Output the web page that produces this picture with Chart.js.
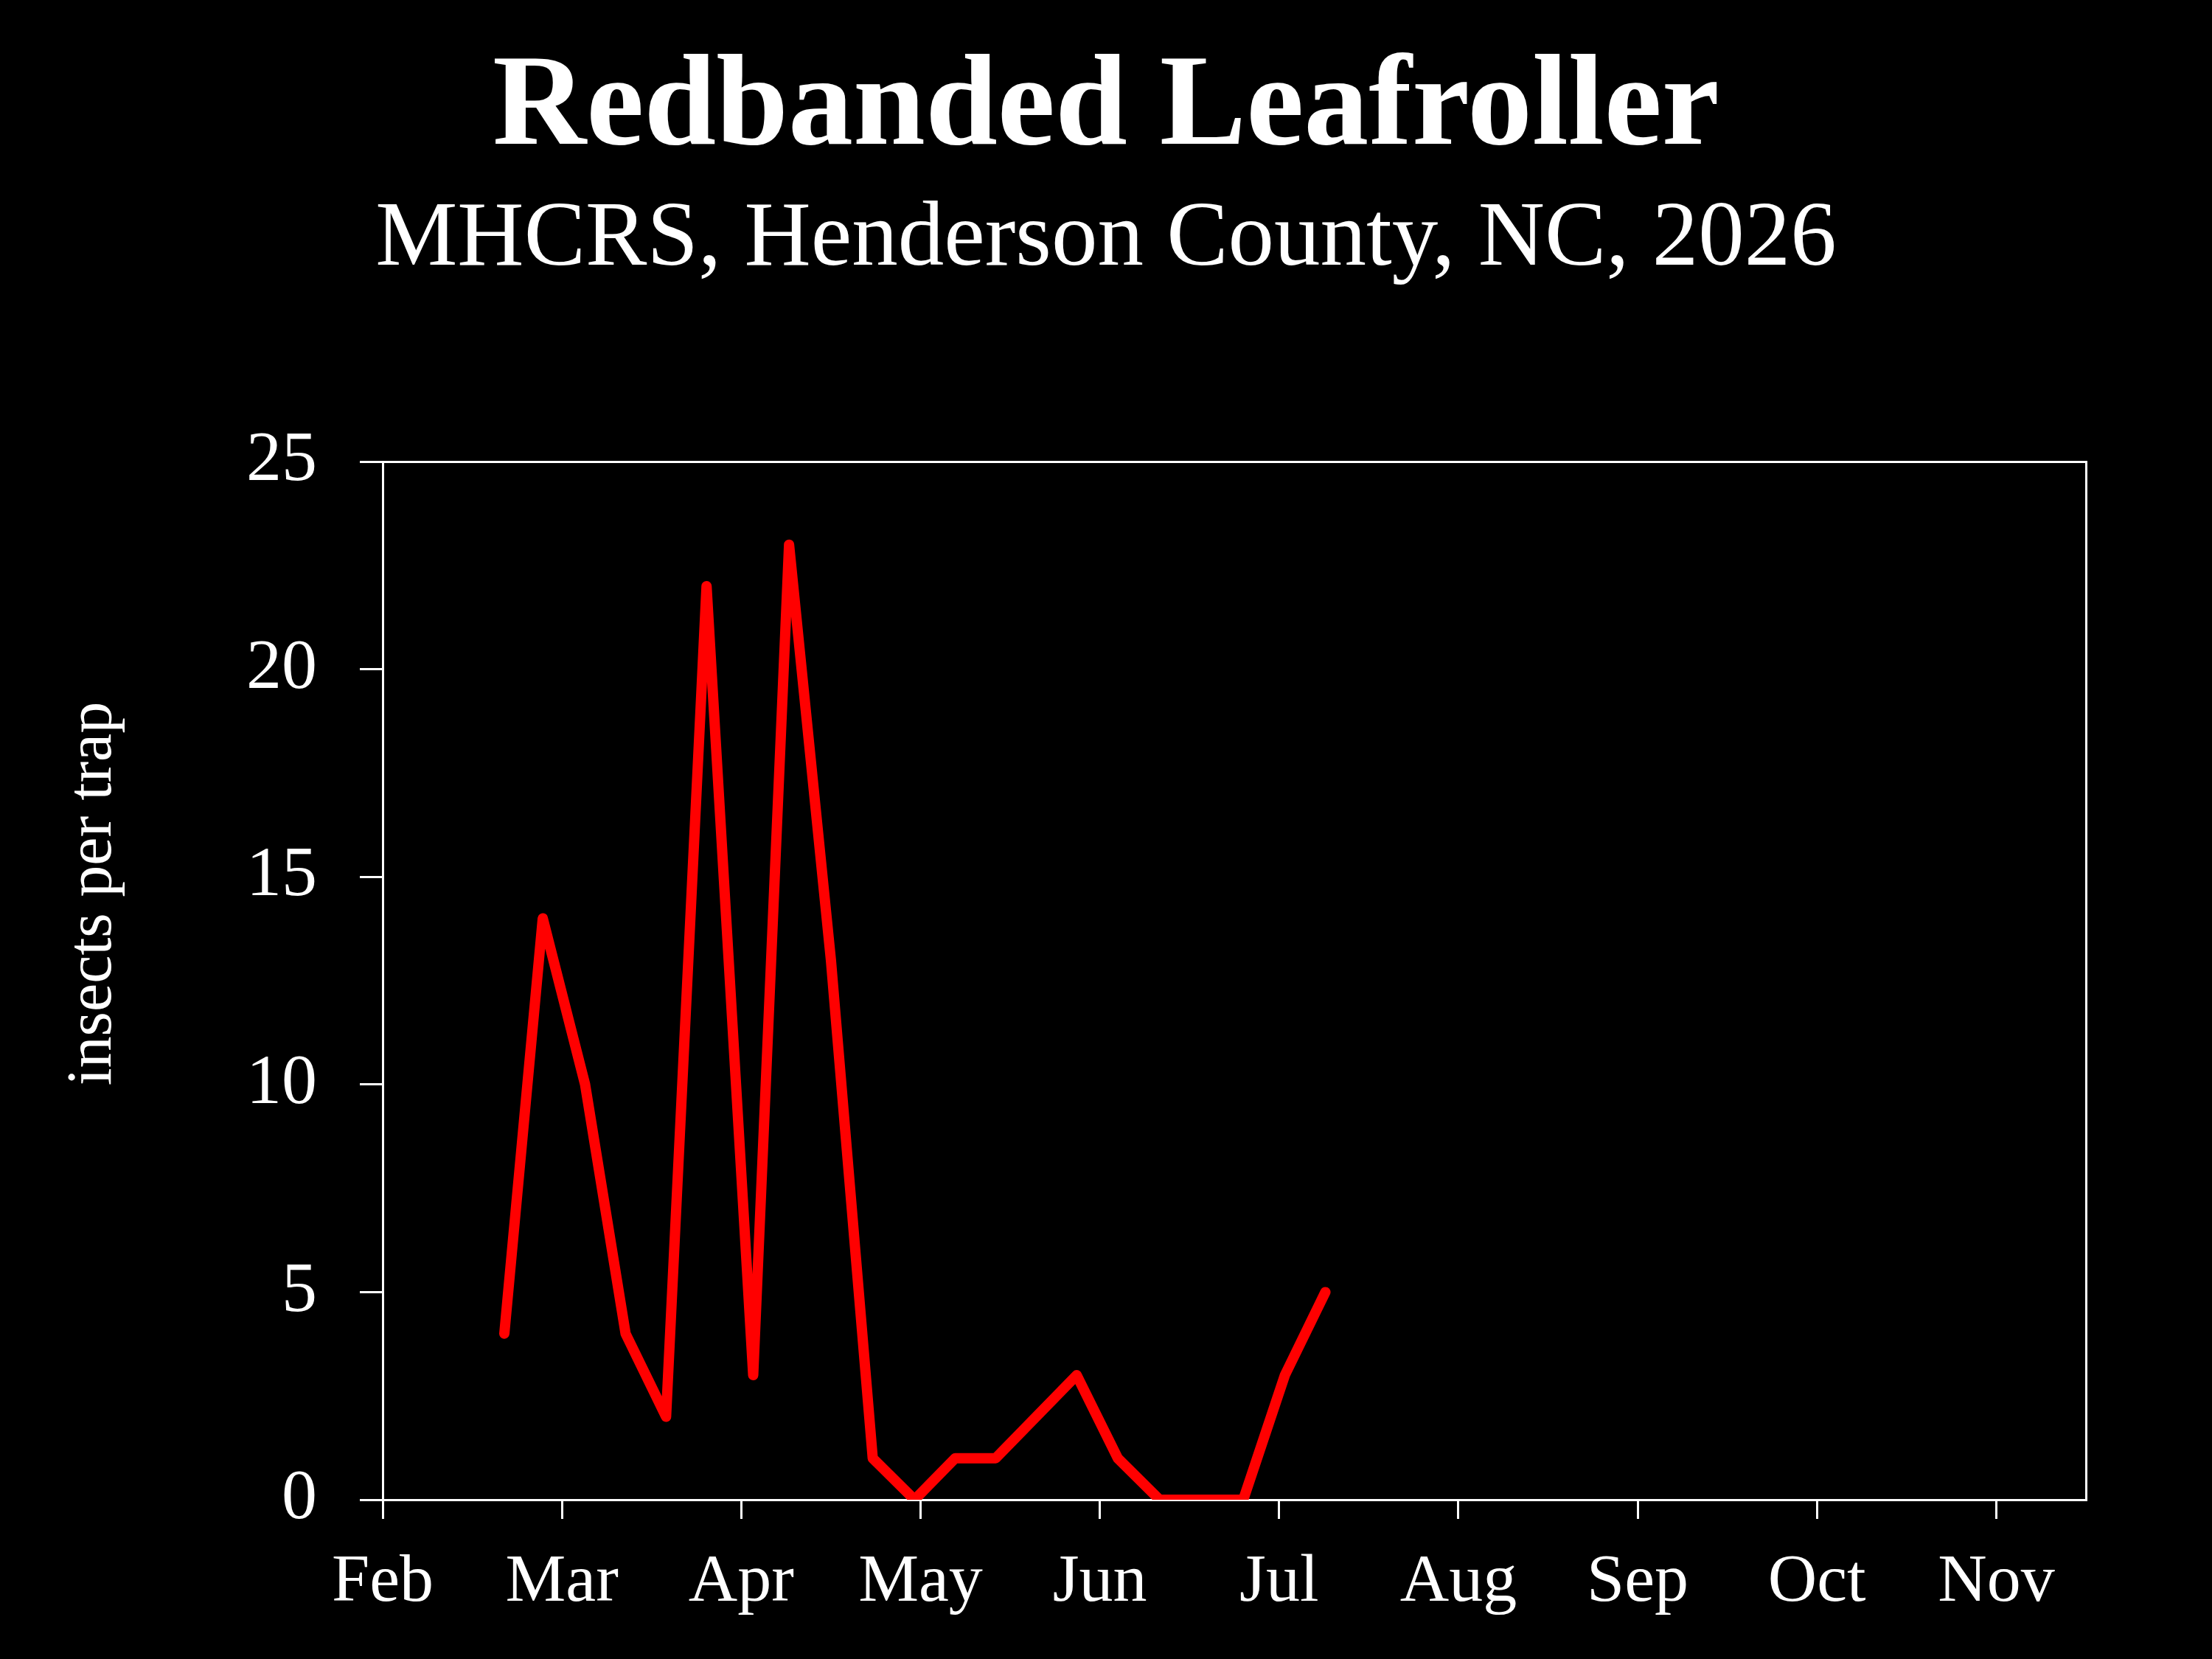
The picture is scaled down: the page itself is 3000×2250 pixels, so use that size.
<!DOCTYPE html>
<html>
<head>
<meta charset="utf-8">
<title>Redbanded Leafroller</title>
<script src="https://cdn.jsdelivr.net/npm/chart.js@4.4.0/dist/chart.umd.min.js"></script>
<style>
  html, body { margin: 0; padding: 0; background: #000; }
  canvas { display: block; }
</style>
</head>
<body>
<canvas id="myChart" width="3000" height="2250"></canvas>
<script>
// trap check dates and counts
const sampleDates = [
  "2026-02-20", "2026-02-26", "2026-03-05", "2026-03-12", "2026-03-19",
  "2026-03-26", "2026-04-03", "2026-04-09", "2026-04-16", "2026-04-23",
  "2026-04-30", "2026-05-07", "2026-05-14", "2026-05-21", "2026-05-28",
  "2026-06-04", "2026-06-11", "2026-06-18", "2026-06-25", "2026-07-02",
  "2026-07-09"
];
const insectsPerTrap = [4, 14, 10, 4, 2, 22, 3, 23, 13, 1, 0, 1, 1, 2, 3, 1, 0, 0, 0, 3, 5];

const monthLabels = ["Feb", "Mar", "Apr", "May", "Jun", "Jul", "Aug", "Sep", "Oct", "Nov"];
const yTickValues = [0, 5, 10, 15, 20, 25];

const serif = "'Liberation Serif', 'DejaVu Serif', serif";

// x axis is in months, Feb = 0, every month one unit wide
function monthPosition(dateStr) {
  const [y, m, d] = dateStr.split("-").map(Number);
  const daysInMonth = new Date(y, m, 0).getDate();
  return (m - 2) + (d - 1) / daysInMonth;
}

let points = [];
for (i = 0; i < sampleDates.length; i++) {
  points.push({ x: monthPosition(sampleDates[i]), y: insectsPerTrap[i] });
}

// y axis title sits a bit above the plot middle, so draw it by hand
const yLabelPlugin = {
  id: "yLabel",
  afterDraw(chart) {
    const ctx = chart.ctx;
    ctx.save();
    ctx.translate(150, 1212);
    ctx.rotate(-Math.PI / 2);
    ctx.fillStyle = "#fff";
    ctx.font = "86px " + serif;
    ctx.textAlign = "center";
    ctx.textBaseline = "alphabetic";
    ctx.fillText("insects per trap", 0, 0);
    ctx.restore();
  },
};

const frameAxis = (position, max, size) => ({
  type: "linear",
  position: position,
  min: 0,
  max: max,
  grid: { display: false },
  ticks: { display: false },
  border: { display: true, color: "#fff", width: 3 },
  afterFit: (scale) => {
    if (scale.isHorizontal()) scale.height = size;
    else scale.width = size;
  },
});

new Chart(document.getElementById("myChart"), {
  type: "line",
  data: {
    datasets: [
      {
        label: "Redbanded Leafroller",
        data: points,
        borderColor: "#ff0000",
        borderWidth: 14,
        borderCapStyle: "round",
        borderJoinStyle: "round",
        pointRadius: 0,
        tension: 0,
        fill: false,
      },
    ],
  },
  plugins: [yLabelPlugin],
  options: {
    responsive: false,
    animation: false,
    devicePixelRatio: 1,
    layout: { padding: 0 },
    plugins: {
      legend: { display: false },
      tooltip: { enabled: false },
      title: {
        display: true,
        text: "Redbanded Leafroller",
        color: "#fff",
        font: { family: serif, size: 176, weight: "bold", lineHeight: 1.0 },
        padding: { top: 62, bottom: 0 },
      },
      subtitle: {
        display: true,
        text: "MHCRS, Henderson County, NC, 2026",
        color: "#fff",
        font: { family: serif, size: 125, weight: "normal", lineHeight: 1.0 },
        padding: { top: 26, bottom: 237 },
      },
    },
    scales: {
      x: {
        type: "linear",
        position: "bottom",
        min: 0,
        max: 9.5,
        z: 1,
        afterBuildTicks: (scale) => {
          scale.ticks = monthLabels.map((m, i) => ({ value: i }));
        },
        ticks: {
          color: "#fff",
          font: { family: serif, size: 92 },
          padding: 32,
          maxRotation: 0,
          autoSkip: false,
          callback: (value) => monthLabels[value],
        },
        grid: {
          drawOnChartArea: false,
          drawTicks: true,
          tickLength: 26,
          color: "#fff",
          lineWidth: 3,
        },
        border: { display: true, color: "#fff", width: 3 },
        afterFit: (scale) => {
          scale.height = 216;
        },
      },
      y: {
        type: "linear",
        position: "left",
        min: 0,
        max: 25,
        afterBuildTicks: (scale) => {
          scale.ticks = yTickValues.map((v) => ({ value: v }));
        },
        ticks: {
          color: "#fff",
          font: { family: serif, size: 96 },
          padding: 58,
        },
        grid: {
          drawOnChartArea: false,
          drawTicks: true,
          tickLength: 31,
          color: "#fff",
          lineWidth: 3,
        },
        border: { display: true, color: "#fff", width: 3 },
        afterFit: (scale) => {
          scale.width = 519;
        },
      },
      xTop: frameAxis("top", 9.5, 0),
      yRight: frameAxis("right", 25, 171),
    },
  },
});
</script>
</body>
</html>
